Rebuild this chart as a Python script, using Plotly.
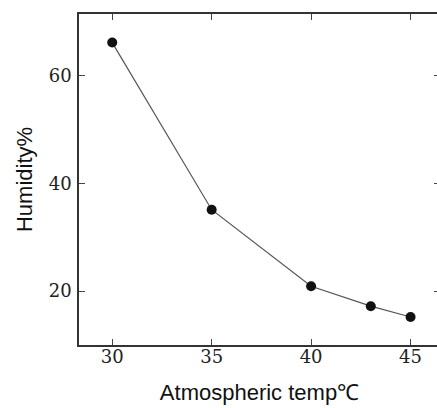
import plotly.graph_objects as go

temps = [30, 35, 40, 43, 45]
humidity = [66.1, 35.1, 20.9, 17.2, 15.2]
x_ticks = [30, 35, 40, 45]
y_ticks = [20, 40, 60]

fig = go.Figure()
fig.add_trace(go.Scatter(
    x=temps, y=humidity, mode="lines+markers",
    line=dict(color="#555555", width=1.2),
    marker=dict(color="#111111", size=10),
    showlegend=False,
))

tickfont = dict(family="DejaVu Serif", size=18, color="#222222")
titlefont = dict(family="Liberation Sans", size=22, color="#111111")

fig.update_layout(
    width=442, height=408,
    margin=dict(l=79, r=0, t=14, b=63),
    paper_bgcolor="white", plot_bgcolor="white",
)
fig.update_xaxes(
    range=[28.33, 46.48], tickvals=x_ticks, ticktext=[str(v) for v in x_ticks],
    ticks="inside", ticklen=6, tickcolor="#444444", tickwidth=1,
    showline=True, linecolor="#333333", linewidth=1.5, mirror="ticks",
    showgrid=False, zeroline=False, tickfont=tickfont, ticklabelstandoff=-5,
    title=dict(text="Atmospheric temp℃", font=titlefont, standoff=18),
)
fig.update_yaxes(
    range=[10.0, 71.4], tickvals=y_ticks, ticktext=[str(v) for v in y_ticks],
    ticks="inside", ticklen=6, tickcolor="#444444", tickwidth=1,
    showline=True, linecolor="#333333", linewidth=1.5, mirror="ticks",
    showgrid=False, zeroline=False, tickfont=tickfont, ticklabelstandoff=2,
    title=dict(text="Humidity%", font=titlefont, standoff=10),
)

fig.write_html(
    "out.html",
    config={"displayModeBar": False},
    post_script="document.body.style.margin='0';document.body.style.overflow='hidden';",
)
